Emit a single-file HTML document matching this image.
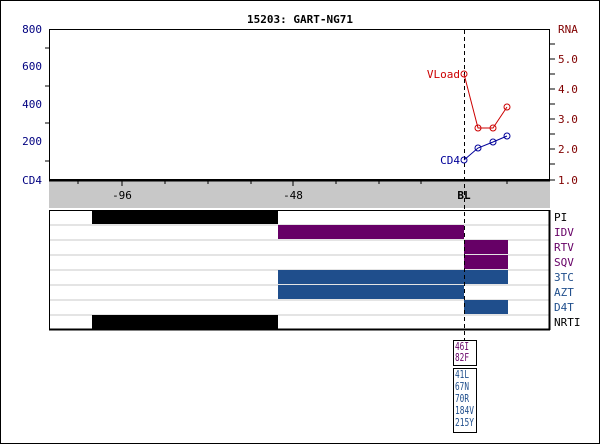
<!DOCTYPE html>
<html><head><style>
html,body{margin:0;padding:0;background:#fff}
svg{display:block}
text{font-family:"DejaVu Sans Mono","Liberation Mono",monospace;font-size:11px}
</style></head><body>
<svg width="600" height="444" viewBox="0 0 600 444" xmlns="http://www.w3.org/2000/svg">
<rect x="0.5" y="0.5" width="599" height="443" fill="#fff" stroke="#000"/>
<text x="300" y="23" text-anchor="middle" font-weight="bold" font-size="12">15203: GART-NG71</text>
<rect x="49.5" y="29.5" width="500" height="150" fill="#fff" stroke="#000"/>
<g fill="#000080" font-size="11">
<text x="42" y="33" text-anchor="end">800</text>
<text x="42" y="70" text-anchor="end">600</text>
<text x="42" y="108" text-anchor="end">400</text>
<text x="42" y="145" text-anchor="end">200</text>
<text x="42" y="184" text-anchor="end">CD4</text>
</g>
<g stroke="#000">
<line x1="45" y1="48" x2="49" y2="48"/><line x1="45" y1="86" x2="49" y2="86"/>
<line x1="45" y1="123" x2="49" y2="123"/><line x1="45" y1="161" x2="49" y2="161"/>
</g>
<g stroke="#000">
<line x1="550" y1="44" x2="555" y2="44"/><line x1="550" y1="59" x2="555" y2="59"/>
<line x1="550" y1="74" x2="555" y2="74"/><line x1="550" y1="89" x2="555" y2="89"/>
<line x1="550" y1="104" x2="555" y2="104"/><line x1="550" y1="119" x2="555" y2="119"/>
<line x1="550" y1="134" x2="555" y2="134"/><line x1="550" y1="149" x2="555" y2="149"/>
<line x1="550" y1="164" x2="555" y2="164"/><line x1="550" y1="180" x2="555" y2="180"/>
</g>
<g fill="#800000" font-size="11">
<text x="558" y="33">RNA</text>
<text x="558" y="63">5.0</text>
<text x="558" y="93">4.0</text>
<text x="558" y="123">3.0</text>
<text x="558" y="153">2.0</text>
<text x="558" y="184">1.0</text>
</g>
<rect x="49" y="181" width="501" height="27" fill="#c8c8c8"/>
<line x1="49" y1="180.5" x2="550" y2="180.5" stroke="#000" stroke-width="2"/>
<g stroke="#000">
<line x1="78" y1="181" x2="78" y2="184"/><line x1="122" y1="181" x2="122" y2="186"/>
<line x1="165" y1="181" x2="165" y2="184"/><line x1="208" y1="181" x2="208" y2="184"/>
<line x1="251" y1="181" x2="251" y2="184"/><line x1="293" y1="181" x2="293" y2="186"/>
<line x1="336" y1="181" x2="336" y2="184"/><line x1="379" y1="181" x2="379" y2="184"/>
<line x1="421" y1="181" x2="421" y2="184"/><line x1="507" y1="181" x2="507" y2="184"/>
</g>
<text x="122" y="199" text-anchor="middle">-96</text>
<text x="293" y="199" text-anchor="middle">-48</text>
<text x="464" y="199" text-anchor="middle" font-weight="bold">BL</text>
<rect x="49.5" y="210.5" width="500" height="119" fill="#fff" stroke="#000" stroke-width="1"/>
<g stroke="#c8c8c8">
<line x1="50" y1="225" x2="549" y2="225"/><line x1="50" y1="240" x2="549" y2="240"/>
<line x1="50" y1="255" x2="549" y2="255"/><line x1="50" y1="270" x2="549" y2="270"/>
<line x1="50" y1="285" x2="549" y2="285"/><line x1="50" y1="300" x2="549" y2="300"/>
<line x1="50" y1="315" x2="549" y2="315"/>
</g>
<rect x="92" y="211" width="186" height="13" fill="#000"/>
<rect x="278" y="225" width="186" height="14" fill="#660066"/>
<rect x="464" y="240" width="44" height="14" fill="#660066"/>
<rect x="464" y="255" width="44" height="14" fill="#660066"/>
<rect x="278" y="270" width="230" height="14" fill="#1f4e8c"/>
<rect x="278" y="285" width="186" height="14" fill="#1f4e8c"/>
<rect x="464" y="300" width="44" height="14" fill="#1f4e8c"/>
<rect x="92" y="315" width="186" height="14" fill="#000"/>
<line x1="49" y1="329.5" x2="550" y2="329.5" stroke="#000" stroke-width="2"/>
<line x1="549.5" y1="210" x2="549.5" y2="330" stroke="#000" stroke-width="2"/>
<g font-size="11">
<text x="554" y="221" fill="#000">PI</text>
<text x="554" y="236" fill="#660066">IDV</text>
<text x="554" y="251" fill="#660066">RTV</text>
<text x="554" y="266" fill="#660066">SQV</text>
<text x="554" y="281" fill="#1f4e8c">3TC</text>
<text x="554" y="296" fill="#1f4e8c">AZT</text>
<text x="554" y="311" fill="#1f4e8c">D4T</text>
<text x="554" y="326" fill="#000">NRTI</text>
</g>
<line x1="464.5" y1="30" x2="464.5" y2="340" stroke="#000" stroke-dasharray="4,3"/>
<rect x="453.5" y="340.5" width="23" height="25" fill="#fff" stroke="#000"/>
<g font-size="8" fill="#660066"><text x="455" y="350" textLength="14" lengthAdjust="spacingAndGlyphs">46I</text><text x="455" y="361" textLength="14" lengthAdjust="spacingAndGlyphs">82F</text></g>
<rect x="453.5" y="368.5" width="23" height="64" fill="#fff" stroke="#000"/>
<g font-size="8" fill="#1f4e8c"><text x="455" y="378" textLength="14" lengthAdjust="spacingAndGlyphs">41L</text><text x="455" y="390" textLength="14" lengthAdjust="spacingAndGlyphs">67N</text><text x="455" y="402" textLength="14" lengthAdjust="spacingAndGlyphs">70R</text><text x="455" y="414" textLength="19" lengthAdjust="spacingAndGlyphs">184V</text><text x="455" y="426" textLength="19" lengthAdjust="spacingAndGlyphs">215Y</text></g>
<polyline points="464,74 478,128 493,128 507,107" fill="none" stroke="#cc0000"/>
<g fill="none" stroke="#cc0000"><circle cx="464" cy="74" r="3"/><circle cx="478" cy="128" r="3"/><circle cx="493" cy="128" r="3"/><circle cx="507" cy="107" r="3"/></g>
<text x="460" y="78" text-anchor="end" fill="#cc0000">VLoad</text>
<polyline points="464,160 478,148 493,142 507,136" fill="none" stroke="#000099"/>
<g fill="none" stroke="#000099"><circle cx="464" cy="160" r="3"/><circle cx="478" cy="148" r="3"/><circle cx="493" cy="142" r="3"/><circle cx="507" cy="136" r="3"/></g>
<text x="460" y="164" text-anchor="end" fill="#000099">CD4</text>
</svg>
</body></html>
